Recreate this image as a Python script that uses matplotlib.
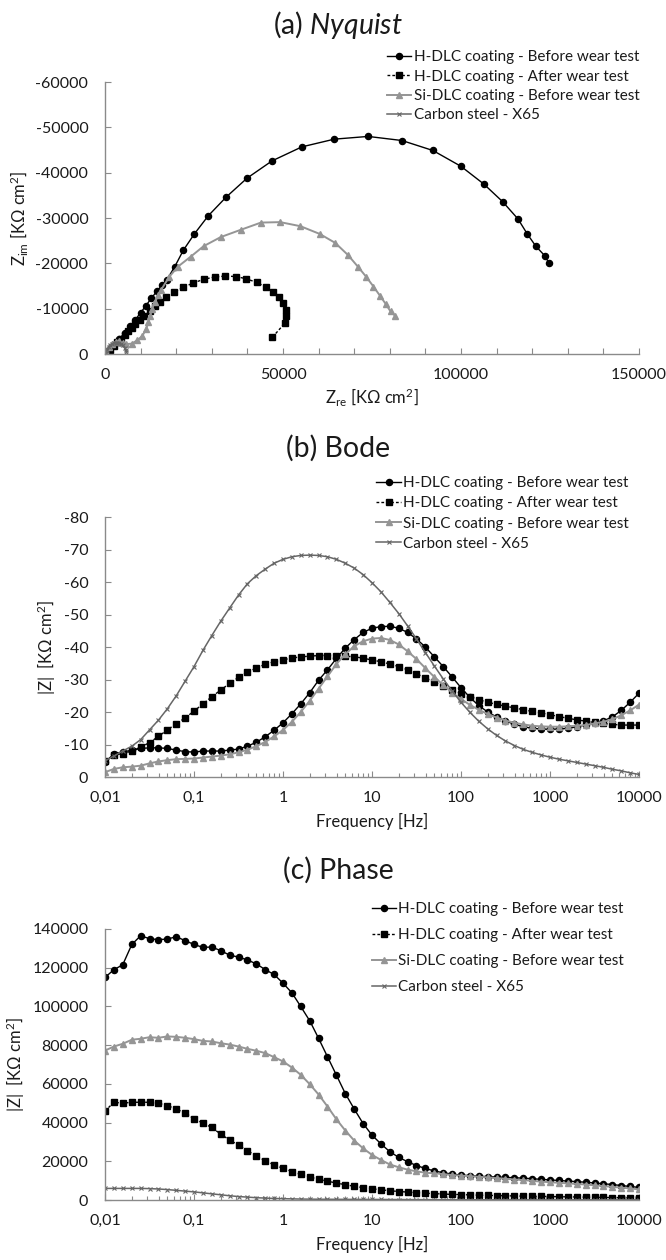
import numpy as np
import matplotlib
matplotlib.use("Agg")
import matplotlib.pyplot as plt
from matplotlib.lines import Line2D
from matplotlib.ticker import FixedLocator, NullFormatter

plt.rcParams['font.family'] = ['Lato', 'DejaVu Sans']
plt.rcParams['mathtext.fontset'] = 'custom'
plt.rcParams['mathtext.rm'] = 'Lato'
plt.rcParams['mathtext.it'] = 'Lato:italic'

labels = ["H-DLC coating - Before wear test",
          "H-DLC coating - After wear test",
          "Si-DLC coating - Before wear test",
          "Carbon steel - X65"]

# ---- (a) Nyquist data, K ohm cm2
nyq_before_re = [300, 1000, 2500, 4000, 5500, 7000, 8500, 10000, 11500, 13000, 14500, 16000,
                 17300, 19600, 22000, 25100, 29000, 34000, 39900, 46900, 55300, 64400, 73900,
                 83400, 92100, 100000, 106400, 111700, 116000, 118600, 121000, 123500, 124700]
nyq_before_im = [-200, -800, -2000, -3300, -4700, -6100, -7600, -9100, -10700, -12300, -13800, -15200,
                 -16300, -19300, -22900, -26500, -30500, -34600, -38800, -42600, -45700, -47400, -48000,
                 -47100, -44900, -41400, -37500, -33600, -29800, -26500, -23800, -21700, -20100]
nyq_after_re = [500, 1500, 2500, 3500, 4500, 5500, 6500, 7500, 8500, 9700, 11000, 12500, 14000,
                15500, 17200, 19500, 22000, 24800, 27800, 30800, 33800, 36800, 39700, 42600, 45200,
                47300, 49000, 50100, 50700, 50800, 50500, 47000]
nyq_after_im = [-300, -1000, -1800, -2600, -3400, -4200, -5000, -5800, -6600, -7500, -8500, -9500,
                -10500, -11500, -12600, -13700, -14700, -15700, -16500, -17000, -17200, -17100,
                -16600, -15800, -14800, -13700, -12500, -11200, -9800, -8400, -6800, -3700]
nyq_si_re = [300, 1000, 2000, 3000, 4000, 5000, 6000, 7500, 9000, 10500, 11500, 12200, 12700, 13200,
             14000, 15000, 15800, 18000, 20500, 24100, 27700, 32500, 38100, 43800, 49200, 54900,
             60300, 64700, 68300, 71000, 73300, 75400, 77200, 78800, 80200, 81400]
nyq_si_im = [-500, -1500, -2300, -2700, -2800, -2500, -2200, -2300, -3000, -4000, -5500, -7000, -8500,
             -10000, -11500, -13000, -14200, -17000, -19300, -21500, -23800, -25800, -27400, -29000,
             -29100, -28200, -26500, -24500, -21800, -19300, -17100, -14900, -12900, -11100, -9400, -8500]
nyq_cs_re = [200, 500, 1000, 1500, 2000, 2500, 3000, 3500, 4000, 4500, 5000, 5500, 5800, 6000]
nyq_cs_im = [-300, -900, -1500, -1900, -2200, -2400, -2500, -2500, -2400, -2200, -1900, -1400, -900, -400]

# ---- frequencies for (b) and (c), Hz
freq = [0.01, 0.0126, 0.0158, 0.02, 0.0251, 0.0316, 0.0398, 0.0501, 0.0631, 0.0794,
        0.1, 0.126, 0.158, 0.2, 0.251, 0.316, 0.398, 0.501, 0.631, 0.794,
        1, 1.26, 1.58, 2, 2.51, 3.16, 3.98, 5.01, 6.31, 7.94,
        10, 12.6, 15.8, 20, 25.1, 31.6, 39.8, 50.1, 63.1, 79.4,
        100, 126, 158, 200, 251, 316, 398, 501, 631, 794,
        1000, 1259, 1585, 1995, 2512, 3162, 3981, 5012, 6310, 7943, 10000]

# ---- (b) Bode
bode_before = [4.5, 7, 7.8, 8.2, 8.8, 9.0, 9.0, 8.8, 8.3, 7.8,
               7.7, 8.0, 8.0, 8.0, 8.3, 8.6, 9.5, 10.7, 12.4, 14.4,
               16.7, 19.5, 22.5, 26, 29.8, 33, 36.5, 39.7, 42.3, 44.5,
               45.8, 46.3, 46.4, 45.8, 44.5, 42.5, 40, 37, 34, 30.8,
               27.5, 24.5, 22, 20, 18.5, 17.3, 16.2, 15.5, 15.0, 14.8,
               14.7, 14.8, 15.0, 15.5, 16.0, 16.5, 17.3, 18.5, 20.5, 23, 25.8]
bode_after = [5, 6.8, 7.2, 8, 9.2, 10.6, 12.5, 14.5, 16.4, 18.2,
              20.3, 22.5, 24.7, 26.8, 28.8, 30.7, 32.2, 33.6, 34.7, 35.5,
              36.1, 36.6, 37.0, 37.2, 37.4, 37.4, 37.4, 37.2, 37.0, 36.6,
              36.0, 35.5, 34.8, 34, 33, 31.8, 30.5, 29.3, 28, 26.8,
              25.7, 24.7, 23.8, 23, 22.4, 21.8, 21.3, 20.7, 20.2, 19.7,
              19.2, 18.6, 18.1, 17.6, 17.2, 16.8, 16.5, 16.2, 16.0, 16.0, 16.0]
bode_si = [1.5, 2.5, 3.0, 3.2, 3.5, 4.2, 4.8, 5.2, 5.5, 5.6,
           5.7, 6.0, 6.3, 6.6, 7.0, 7.6, 8.4, 9.5, 10.8, 12.5,
           14.5, 17, 20, 23.5, 27.2, 31, 34.8, 37.8, 40.3, 41.8,
           42.6, 42.8, 42.2, 40.8, 38.7, 36.3, 33.5, 30.8, 28.3, 26,
           24, 22.2, 20.7, 19.4, 18.3, 17.4, 16.7, 16.2, 15.8, 15.6,
           15.5, 15.5, 15.6, 15.8, 16.0, 16.5, 17.0, 17.8, 19, 20.5, 22.3]
bode_cs = [5, 6.5, 8, 9.5, 11.5, 14.5, 17.5, 21, 25, 29.5,
           34, 39, 43.5, 48, 52, 56, 59.5, 62, 64, 65.8,
           67, 67.8, 68.2, 68.3, 68.2, 67.8, 67, 65.8, 64.3, 62.3,
           59.8, 57, 53.8, 50.3, 46.5, 42.5, 38.3, 34.2, 30.2, 26.5,
           23, 19.9, 17.2, 14.8, 12.8, 11.1, 9.7, 8.5, 7.6, 6.8,
           6.1, 5.5, 5.0, 4.5, 4.0, 3.5, 3.0, 2.4, 1.9, 1.3, 0.8]

# ---- (c) Phase (|Z|, K ohm cm2)
ph_before = [115000, 119000, 121500, 132000, 136500, 135000, 134500, 134800, 136000, 134000,
             132000, 130500, 130700, 128800, 126500, 125500, 124000, 122000, 119000, 116500,
             112000, 107000, 100000, 92500, 83500, 74000, 64500, 55000, 47000, 39500,
             33500, 29000, 25000, 22000, 19800, 17800, 16300, 15000, 14100, 13400,
             12900, 12600, 12300, 12100, 11900, 11700, 11500, 11300, 11000, 10700,
             10400, 10100, 9800, 9500, 9200, 8800, 8400, 8000, 7500, 7000, 6500]
ph_after = [46000, 50500, 50000, 50500, 50500, 50500, 50000, 48800, 47000, 45000,
            42000, 39700, 37500, 34000, 31000, 28400, 25500, 22800, 20300, 18100,
            16400, 14700, 13200, 11900, 10700, 9700, 8800, 7900, 7100, 6400,
            5800, 5300, 4800, 4400, 4100, 3800, 3500, 3300, 3100, 2900,
            2800, 2650, 2500, 2400, 2300, 2200, 2100, 2000, 1950, 1900,
            1800, 1700, 1650, 1550, 1500, 1400, 1350, 1250, 1200, 1100, 1000]
ph_si = [77200, 79300, 80700, 82800, 83300, 84100, 83800, 84500, 84300, 83800,
         83100, 82200, 81900, 81000, 80300, 79300, 78100, 77100, 75900, 73800,
         71600, 68400, 64700, 59800, 54500, 48300, 41700, 35900, 30700, 26700,
         23300, 20700, 18400, 16900, 15700, 14800, 14100, 13800, 13400, 12900,
         12600, 12300, 12000, 11700, 11300, 11000, 10600, 10300, 9900, 9500,
         9200, 8900, 8600, 8300, 8000, 7600, 7200, 6800, 6400, 6000, 5500]
ph_cs = [6000, 6000, 6000, 6000, 6000, 5900, 5700, 5400, 5000, 4600,
         4200, 3700, 3200, 2700, 2200, 1800, 1500, 1200, 1000, 800,
         700, 600, 500, 450, 400, 380, 360, 340, 330, 320,
         300, 280, 260, 240, 220, 200, 190, 180, 170, 160,
         150, 140, 130, 120, 110, 100, 100, 100, 100, 100,
         100, 100, 100, 100, 100, 100, 100, 100, 100, 100, 100]

freq_ticks = [0.01, 0.1, 1, 10, 100, 1000, 10000]
freq_ticklabels = ["0,01", "0,1", "1", "10", "100", "1000", "10000"]

styles = [dict(color="black", marker="o", ms=4.4, lw=1.0, ls="-"),
          dict(color="black", marker="s", ms=4.4, lw=1.0, ls=(0, (2, 1.5))),
          dict(color="#959595", marker="^", ms=4.4, lw=1.4, ls="-"),
          dict(color="#666666", marker="x", ms=3.5, mew=0.8, lw=1.1, ls="-")]

text_col = "#1a1a1a"
spine_col = "#8a8a8a"

fig = plt.figure(figsize=(6.66, 12.6), dpi=100)


def style_axes(ax):
    for s in ["top", "right"]:
        ax.spines[s].set_visible(False)
    for s in ["left", "bottom"]:
        ax.spines[s].set_color(spine_col)
        ax.spines[s].set_linewidth(1.0)
    ax.tick_params(which="major", direction="in", length=4, width=0.8, color=spine_col,
                   labelsize=11.5, labelcolor=text_col)
    ax.tick_params(axis="x", which="major", pad=10)
    ax.tick_params(axis="y", which="major", pad=12)
    ax.tick_params(which="minor", direction="in", length=3, width=0.8, color=spine_col)


def add_legend(ax, x, y, spacing):
    handles = [Line2D([], [], **st) for st in styles]
    ax.legend(handles, labels, loc="upper left", bbox_to_anchor=(x, y),
              bbox_transform=fig.transFigure, frameon=False, fontsize=11,
              handlelength=1.6, handletextpad=0.15, labelspacing=spacing,
              borderpad=0, borderaxespad=0, labelcolor=text_col)


# (a) Nyquist
ax1 = fig.add_axes([0.1577, 0.7190, 0.8018, 0.2159])
for xs, ys, st in zip([nyq_before_re, nyq_after_re, nyq_si_re, nyq_cs_re],
                      [nyq_before_im, nyq_after_im, nyq_si_im, nyq_cs_im], styles):
    ax1.plot(xs, ys, **st)
ax1.set_xlim(0, 150000)
ax1.set_ylim(0, -60000)
ax1.set_xticks([0, 50000, 100000, 150000])
ax1.set_xticklabels(["0", "50000", "100000", "150000"])
ax1.xaxis.set_minor_locator(FixedLocator(list(range(0, 150001, 10000))))
ax1.set_yticks([0, -10000, -20000, -30000, -40000, -50000, -60000])
ax1.set_yticklabels(["0", "-10000", "-20000", "-30000", "-40000", "-50000", "-60000"])
style_axes(ax1)
ax1.tick_params(which="minor", length=4)
ax1.set_xlabel(r"Z$_{\mathrm{re}}$ [KΩ cm$^{2}$]", fontsize=12, color=text_col, labelpad=3)
ax1.set_ylabel(r"Z$_{\mathrm{im}}$ [KΩ cm$^{2}$]", fontsize=12, color=text_col, labelpad=4)
fig.text(0.5075, 0.980, r"(a) $\mathit{Nyquist}$", ha="center", va="center", fontsize=20.5, color=text_col)
add_legend(ax1, 0.581, 0.960, 0.35)

# (b) Bode
ax2 = fig.add_axes([0.1577, 0.3833, 0.8018, 0.2063])
for ys, st in zip([bode_before, bode_after, bode_si, bode_cs], styles):
    ax2.plot(freq, [-v for v in ys], **st)
ax2.set_xscale("log")
ax2.set_xlim(0.01, 10000)
ax2.set_ylim(0, -80)
ax2.set_yticks(list(range(0, -81, -10)))
ax2.set_yticklabels([str(v) for v in range(0, -81, -10)])
ax2.set_xticks(freq_ticks)
ax2.set_xticklabels(freq_ticklabels)
ax2.xaxis.set_minor_formatter(NullFormatter())
style_axes(ax2)
ax2.set_xlabel("Frequency [Hz]", fontsize=12, color=text_col, labelpad=6)
ax2.set_ylabel(r"|Z|  [KΩ cm$^{2}$]", fontsize=12, color=text_col, labelpad=4)
fig.text(0.5075, 0.6444, "(b) Bode", ha="center", va="center", fontsize=20.5, color=text_col)
add_legend(ax2, 0.565, 0.622, 0.4)

# (c) Phase
ax3 = fig.add_axes([0.1577, 0.0476, 0.8018, 0.2151])
for ys, st in zip([ph_before, ph_after, ph_si, ph_cs], styles):
    ax3.plot(freq, ys, **st)
ax3.set_xscale("log")
ax3.set_xlim(0.01, 10000)
ax3.set_ylim(0, 140000)
ax3.set_yticks(list(range(0, 140001, 20000)))
ax3.set_yticklabels([str(v) for v in range(0, 140001, 20000)])
ax3.set_xticks(freq_ticks)
ax3.set_xticklabels(freq_ticklabels)
ax3.xaxis.set_minor_formatter(NullFormatter())
style_axes(ax3)
ax3.set_xlabel("Frequency [Hz]", fontsize=12, color=text_col, labelpad=6)
ax3.set_ylabel(r"|Z|  [KΩ cm$^{2}$]", fontsize=12, color=text_col, labelpad=4)
fig.text(0.5075, 0.3095, "(c) Phase", ha="center", va="center", fontsize=20.5, color=text_col)
add_legend(ax3, 0.558, 0.284, 0.78)

fig.savefig("out.png", dpi=100, facecolor="white")
